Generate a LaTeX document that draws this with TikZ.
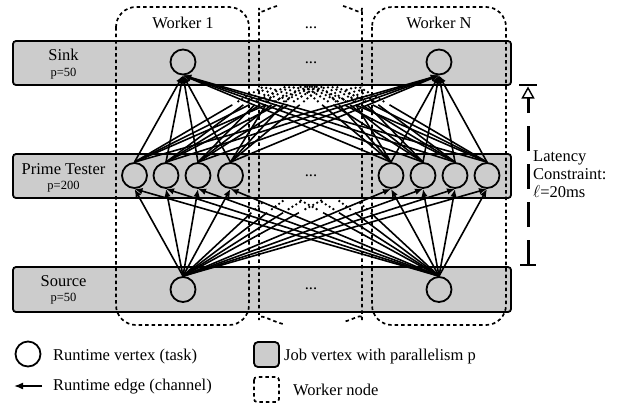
\documentclass[tikz,border=0pt]{standalone}
\usepackage{fontspec}
\setmainfont{Liberation Serif}
\usetikzlibrary{arrows.meta,calc}

\definecolor{jobgrey}{gray}{0.8}

\tikzset{
  jobbar/.style={draw, line width=1.8pt, fill=jobgrey, rounded corners=3pt},
  worker/.style={draw, line width=1.7pt, dash pattern=on 3.5pt off 3pt, rounded corners=20pt},
  task/.style={circle, draw, line width=1.8pt, minimum size=25pt, inner sep=0pt},
  channel/.style={line width=1.6pt, -{Latex[length=8pt,width=6.5pt]}},
  fadeseg/.style={line width=1.6pt},
  fadedots/.style={line width=2.6pt, line cap=round, dash pattern=on 0pt off 4.5pt},
  bigtext/.style={font=\fontsize{16.5pt}{19pt}\selectfont, inner sep=0pt},
  smalltext/.style={font=\fontsize{12.5pt}{14pt}\selectfont, inner sep=0pt},
  latency/.style={line width=3pt, dash pattern=on 25pt off 13pt},
}

\begin{document}
\begin{tikzpicture}[x=1pt,y=-1pt]
\useasboundingbox (0,0) rectangle (620,408);

% job vertices (grey bars)
\draw[jobbar] (13,41) rectangle (511,85);
\draw[jobbar] (13,154) rectangle (511,198);
\draw[jobbar] (13,267) rectangle (511,312);

\node[bigtext, anchor=base] (sinkname) at (63.5,60) {Sink};
\node[smalltext, anchor=base] (sinkpar) at (63.5,76) {p=50};
\node[bigtext, anchor=base] (primename) at (63.5,174) {Prime Tester};
\node[smalltext, anchor=base] (primepar) at (63.5,189.5) {p=200};
\node[bigtext, anchor=base] (sourcename) at (63.5,286) {Source};
\node[smalltext, anchor=base] (sourcepar) at (63.5,301.5) {p=50};

\node[bigtext, anchor=base] (sinkdots) at (311,63.5) {...};
\node[bigtext, anchor=base] (primedots) at (311,176) {...};
\node[bigtext, anchor=base] (sourcedots) at (311,289) {...};

% worker nodes
\draw[worker] (116,7) rectangle (249,325);
\draw[worker] (372,7) rectangle (506,325);
\draw[worker] (277,6) .. controls (265,9) and (259,16) .. (259,28) -- (259,300)
  .. controls (259,312) and (268,320) .. (283,324);
\draw[worker] (343,6) .. controls (355,9) and (362,16) .. (362,28) -- (362,300)
  .. controls (362,312) and (356,319) .. (343,322);

\node[bigtext, anchor=base] (w1label) at (183,28) {Worker 1};
\node[bigtext, anchor=base] (wdots) at (311,28) {...};
\node[bigtext, anchor=base] (wNlabel) at (439,28) {Worker N};

% runtime vertices
\node[task] (s1) at (183,62) {};
\node[task] (sN) at (439,62) {};
\node[task] (p1) at (134.5,175.5) {};
\node[task] (p2) at (166,175.5) {};
\node[task] (p3) at (198,175.5) {};
\node[task] (p4) at (230.5,175.5) {};
\node[task] (p5) at (391,175.5) {};
\node[task] (p6) at (423,175.5) {};
\node[task] (p7) at (455,175.5) {};
\node[task] (p8) at (487,175.5) {};
\node[task] (src1) at (183,289.5) {};
\node[task] (srcN) at (439,289.5) {};

% tasks of the workers in between (not drawn)
\coordinate (ms1) at (285,74);
\coordinate (ms2) at (311,74);
\coordinate (ms3) at (337,74);
\coordinate (mp1) at (278,188);
\coordinate (mp2) at (300,188);
\coordinate (mp3) at (322,188);
\coordinate (mp4) at (344,188);

% runtime edges
\foreach \i in {1,...,8} {
  \draw[channel] (src1.north) -- (p\i.south);
  \draw[channel] (srcN.north) -- (p\i.south);
  \draw[channel] (p\i.north) -- (s1.south);
  \draw[channel] (p\i.north) -- (sN.south);
  \foreach \m in {1,2,3} {
    \draw[fadeseg] (p\i.north) -- ($(p\i.north)!0.65!(ms\m)$);
    \draw[fadedots] ($(p\i.north)!0.69!(ms\m)$) -- ($(p\i.north)!0.86!(ms\m)$);
  }
}
\foreach \s in {src1,srcN} {
  \foreach \m in {1,...,4} {
    \draw[fadeseg] (\s.north) -- ($(\s.north)!0.72!(mp\m)$);
    \draw[fadedots] ($(\s.north)!0.76!(mp\m)$) -- ($(\s.north)!0.86!(mp\m)$);
  }
}

% latency constraint
\coordinate (lattop) at (528,85);
\coordinate (latbot) at (528,265);
\draw[line width=1.4pt] ($(lattop)+(-9,0)$) -- ($(lattop)+(9,0)$);
\draw[line width=1.4pt] ($(latbot)+(-8,0)$) -- ($(latbot)+(8,0)$);
\draw[latency, -{Triangle[open, length=12pt, width=13pt, line width=1.4pt]}]
  (latbot) -- ($(lattop)+(0,1.5)$);
\node[bigtext, anchor=base west] (lat1) at (533,161) {Latency};
\node[bigtext, anchor=base west] (lat2) at (533,179) {Constraint:};
\node[bigtext, anchor=base west] (lat3) at (533,197) {$\ell$=20ms};

% legend
\node[task] (legtask) at (28,354) {};
\node[bigtext, anchor=base west] (legtasktext) at (53,360.5) {Runtime vertex (task)};
\coordinate (legarrowfrom) at (42,386);
\coordinate (legarrowto) at (14,386);
\draw[channel, -{Latex[length=9pt,width=7pt]}] (legarrowfrom) -- (legarrowto);
\node[bigtext, anchor=base west] (legedgetext) at (53,390) {Runtime edge (channel)};
\draw[jobbar, rounded corners=4pt] (254,342) rectangle (279,367);
\node[bigtext, anchor=base west] (legjobtext) at (284,360.5) {Job vertex with parallelism p};
\draw[worker, rounded corners=3pt] (254,377) rectangle (279,402);
\node[bigtext, anchor=base west] (legworkertext) at (293,395.5) {Worker node};
\end{tikzpicture}
\end{document}
